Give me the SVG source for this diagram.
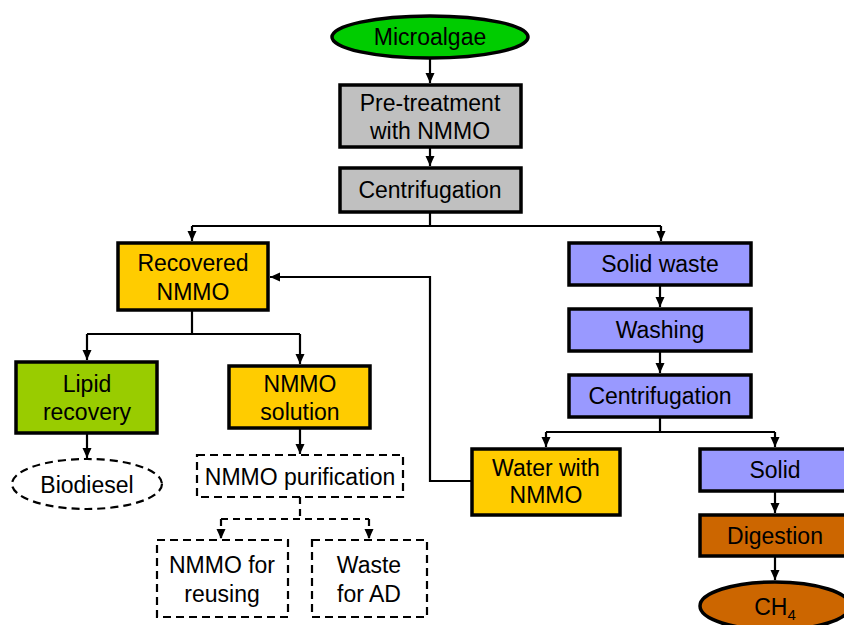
<svg xmlns="http://www.w3.org/2000/svg" width="844" height="625" viewBox="0 0 844 625">
<defs>
<marker id="ah" markerWidth="12" markerHeight="12" refX="10" refY="5.5" orient="auto" markerUnits="userSpaceOnUse"><path d="M0,1 L10,5.5 L0,10 Z" fill="#000"/></marker>
</defs>
<style>
.n{stroke:#000;stroke-width:3.5}
.d{fill:#fff;stroke:#000;stroke-width:2.2;stroke-dasharray:8,5}
.t{font-family:"Liberation Sans",Arial,sans-serif;font-size:23px;text-anchor:middle;fill:#000}
.c{fill:none;stroke:#000;stroke-width:2.2}
.cd{fill:none;stroke:#000;stroke-width:2.2;stroke-dasharray:7,5}
</style>
<rect width="844" height="625" fill="#fff"/>
<g id="connectors">
<path class="c" d="M430,58 V83" marker-end="url(#ah)"/>
<path class="c" d="M430,147 V166" marker-end="url(#ah)"/>
<path class="c" d="M430,212 V226 M192,226 H661"/>
<path class="c" d="M192,226 V241" marker-end="url(#ah)"/>
<path class="c" d="M661,226 V241" marker-end="url(#ah)"/>
<path class="c" d="M660,285 V307" marker-end="url(#ah)"/>
<path class="c" d="M660,351 V373" marker-end="url(#ah)"/>
<path class="c" d="M660,417 V432 M546,432 H775"/>
<path class="c" d="M546,432 V447" marker-end="url(#ah)"/>
<path class="c" d="M775,432 V447" marker-end="url(#ah)"/>
<path class="c" d="M775,491 V513" marker-end="url(#ah)"/>
<path class="c" d="M775,556 V580" marker-end="url(#ah)"/>
<path class="c" d="M471,481 H430 V277 H270" marker-end="url(#ah)"/>
<path class="c" d="M192,310 V334 M87,334 H300"/>
<path class="c" d="M87,334 V360" marker-end="url(#ah)"/>
<path class="c" d="M300,334 V364" marker-end="url(#ah)"/>
<path class="c" d="M87,433 V458" marker-end="url(#ah)"/>
<path class="c" d="M300,428 V454" marker-end="url(#ah)"/>
<path class="cd" d="M300,497 V519 M221,519 H369"/>
<path class="cd" d="M221,519 V539" marker-end="url(#ah)"/>
<path class="cd" d="M369,519 V539" marker-end="url(#ah)"/>
</g>
<g id="microalgae"><ellipse class="n" cx="430" cy="37" rx="98" ry="21" fill="#00CC00"/><text class="t" x="430" y="45">Microalgae</text></g>
<g id="pretreatment"><rect class="n" x="340" y="85" width="181" height="62" fill="#C0C0C0"/><text class="t" x="430" y="111">Pre-treatment</text><text class="t" x="430" y="139">with NMMO</text></g>
<g id="centrifugation1"><rect class="n" x="340" y="168" width="181" height="44" fill="#C0C0C0"/><text class="t" x="430" y="198">Centrifugation</text></g>
<g id="recovered"><rect class="n" x="118" y="243" width="150" height="67" fill="#FFCC00"/><text class="t" x="193" y="271">Recovered</text><text class="t" x="193" y="300">NMMO</text></g>
<g id="lipid"><rect class="n" x="16" y="362" width="141" height="71" fill="#99CC00"/><text class="t" x="87" y="392">Lipid</text><text class="t" x="87" y="420">recovery</text></g>
<g id="nmmosolution"><rect class="n" x="229" y="366" width="141" height="62" fill="#FFCC00"/><text class="t" x="300" y="392">NMMO</text><text class="t" x="300" y="420">solution</text></g>
<g id="biodiesel"><ellipse class="d" cx="87" cy="484" rx="75" ry="25"/><text class="t" x="87" y="493">Biodiesel</text></g>
<g id="purification"><rect class="d" x="197" y="455" width="206" height="42"/><text class="t" x="300" y="485">NMMO purification</text></g>
<g id="reusing"><rect class="d" x="157" y="540" width="131" height="77"/><text class="t" x="222" y="573">NMMO for</text><text class="t" x="222" y="602">reusing</text></g>
<g id="wasteAD"><rect class="d" x="312" y="540" width="115" height="77"/><text class="t" x="369" y="573">Waste</text><text class="t" x="369" y="602">for AD</text></g>
<g id="solidwaste"><rect class="n" x="569" y="243" width="182" height="42" fill="#9999FF"/><text class="t" x="660" y="272">Solid waste</text></g>
<g id="washing"><rect class="n" x="569" y="309" width="182" height="42" fill="#9999FF"/><text class="t" x="660" y="338">Washing</text></g>
<g id="centrifugation2"><rect class="n" x="569" y="375" width="182" height="42" fill="#9999FF"/><text class="t" x="660" y="404">Centrifugation</text></g>
<g id="water"><rect class="n" x="472" y="449" width="148" height="66" fill="#FFCC00"/><text class="t" x="546" y="476">Water with</text><text class="t" x="546" y="503">NMMO</text></g>
<g id="solid"><rect class="n" x="700" y="449" width="152" height="42" fill="#9999FF"/><text class="t" x="775" y="478">Solid</text></g>
<g id="digestion"><rect class="n" x="700" y="515" width="152" height="41" fill="#CC6600"/><text class="t" x="775" y="544">Digestion</text></g>
<g id="ch4"><ellipse class="n" cx="775" cy="606" rx="75" ry="24" fill="#CC6600"/><text class="t" x="775" y="615">CH<tspan font-size="15" dy="5">4</tspan></text></g>
</svg>
